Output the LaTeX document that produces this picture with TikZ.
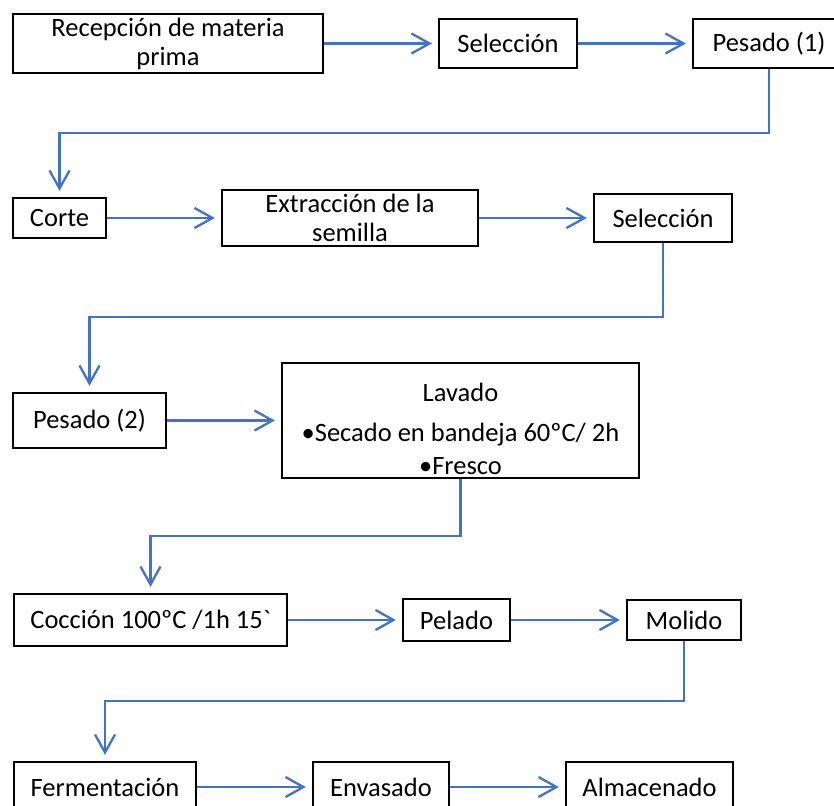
\documentclass[tikz,border=0pt]{standalone}
\usepackage{fontspec}
\setmainfont{Carlito}[Ligatures=TeXOff]
\usetikzlibrary{arrows.meta}
\definecolor{flowblue}{HTML}{4472C4}
\begin{document}
\begin{tikzpicture}[x=1pt,y=-1pt,
  box/.style={draw=black, line width=2.3pt, rectangle, inner sep=0pt, align=center,
              font=\fontsize{26.5}{29}\selectfont},
  txt/.style={inner sep=0pt, font=\fontsize{26.5}{29}\selectfont},
  flow/.style={draw=flowblue, line width=2.3pt,
               -{Straight Barb[length=18pt,width=20pt,line width=2.3pt]}, shorten >=6pt},
]
\useasboundingbox (0,0) rectangle (834,805);
\clip (0,0) rectangle (834,805);

% first row
\node[box, minimum width=310pt, minimum height=59pt] (rec) at (168,43.5) {\rule{0pt}{20pt}Recepción de materia\\prima};
\node[box, minimum width=138pt, minimum height=49pt] (sel1) at (508,43.5) {Selección};
\node[box, minimum width=152pt, minimum height=49pt] (pes1) at (769,43.5) {Pesado (1)};

% second row
\node[box, minimum width=93pt, minimum height=40pt] (corte) at (59.5,218) {Corte};
\node[box, minimum width=256pt, minimum height=56pt] (extr) at (350,218) {Extracción de la\\semilla};
\node[box, minimum width=138pt, minimum height=48pt] (sel2) at (663,218) {Selección};

% third row
\node[box, minimum width=153pt, minimum height=55pt] (pes2) at (89.5,420.5) {Pesado (2)};
\node[box, minimum width=357pt, minimum height=115pt] (lav) at (460.5,420.5) {};
\node[txt, anchor=base] (lavT) at (460.5,401) {Lavado};
\node[txt, anchor=base] (secT) at (460.5,441) {•Secado en bandeja 60ºC/ 2h};
\node[txt, anchor=base] (freT) at (460.5,474) {•Fresco};

% fourth row
\node[box, minimum width=273pt, minimum height=52pt] (cocc) at (150.5,620) {Cocción 100ºC /1h 15`};
\node[box, minimum width=107pt, minimum height=42pt] (pel) at (456.5,620) {Pelado};
\node[box, minimum width=114pt, minimum height=40pt] (mol) at (684,620) {Molido};

% fifth row
\node[box, minimum width=182pt, minimum height=50pt] (ferm) at (105,787) {Fermentación};
\node[box, minimum width=136pt, minimum height=50pt] (env) at (381,787) {Envasado};
\node[box, minimum width=167pt, minimum height=50pt] (alm) at (649.5,787) {Almacenado};

% turn levels of the returning connectors
\coordinate (turnA) at (0,133);
\coordinate (turnB) at (0,317);
\coordinate (turnC) at (0,536);
\coordinate (turnD) at (0,701);

% connectors
\draw[flow] (rec) -- (sel1);
\draw[flow] (sel1) -- (pes1);
\draw[flow] (pes1.south) |- (corte.north |- turnA) -- (corte.north);
\draw[flow] (corte) -- (extr);
\draw[flow] (extr) -- (sel2);
\draw[flow] (sel2.south) |- (pes2.north |- turnB) -- (pes2.north);
\draw[flow] (pes2) -- (lav);
\draw[flow] (lav.south) |- (cocc.north |- turnC) -- (cocc.north);
\draw[flow] (cocc) -- (pel);
\draw[flow] (pel) -- (mol);
\draw[flow] (mol.south) |- (ferm.north |- turnD) -- (ferm.north);
\draw[flow] (ferm) -- (env);
\draw[flow] (env) -- (alm);
\end{tikzpicture}
\end{document}
